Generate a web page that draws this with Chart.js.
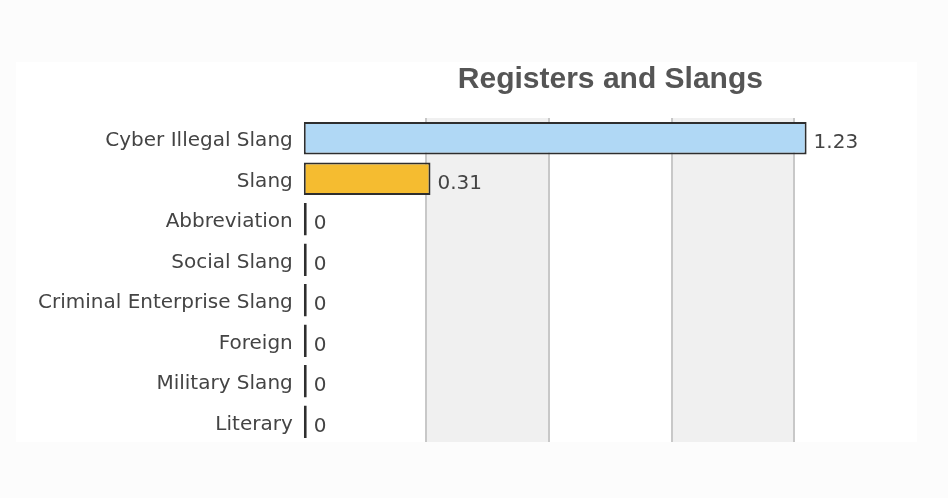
<!DOCTYPE html>
<html>
<head>
<meta charset="utf-8">
<script src="https://cdn.jsdelivr.net/npm/chart.js@4/dist/chart.umd.min.js"></script>
<style>
  html, body { margin: 0; padding: 0; background: #fcfcfc; }
  #wrap { width: 948px; height: 498px; position: relative; }
</style>
</head>
<body>
<div id="wrap"><canvas id="c" width="948" height="498"></canvas></div>
<script>
const categories = ["Cyber Illegal Slang", "Slang", "Abbreviation", "Social Slang", "Criminal Enterprise Slang", "Foreign", "Military Slang", "Literary"];
const values = [1.23, 0.31, 0, 0, 0, 0, 0, 0];
const barColors = ["#b0d8f5", "#f5bc30", "#333333", "#333333", "#333333", "#333333", "#333333", "#333333"];
const valueLabels = ["1.23", "0.31", "0", "0", "0", "0", "0", "0"];
const titleText = "Registers and Slangs";

const TEXT = "#444444";
const LABEL_FONT = "DejaVu Sans, Verdana, sans-serif";

const panelPlugin = {
  id: 'panel',
  beforeDraw(chart) {
    const { ctx, chartArea } = chart;
    ctx.save();
    ctx.fillStyle = '#ffffff';
    ctx.fillRect(16, 62, chartArea.right - 16, chartArea.bottom - 62);
    ctx.restore();
  }
};

const bandsPlugin = {
  id: 'bands',
  beforeDatasetsDraw(chart) {
    const { ctx, chartArea, scales } = chart;
    const x = scales.x;
    const ticks = x.ticks;
    ctx.save();
    ctx.fillStyle = '#f0f0f0';
    for (let i = 1; i < ticks.length - 1; i += 2) {
      const a = x.getPixelForValue(ticks[i].value);
      const b = x.getPixelForValue(ticks[i + 1].value);
      ctx.fillRect(a, chartArea.top, b - a, chartArea.bottom - chartArea.top);
    }
    ctx.strokeStyle = '#c8c8c8';
    ctx.lineWidth = 2;
    for (let i = 1; i < ticks.length - 1; i++) {
      const p = Math.round(x.getPixelForValue(ticks[i].value));
      ctx.beginPath();
      ctx.moveTo(p, chartArea.top);
      ctx.lineTo(p, chartArea.bottom);
      ctx.stroke();
    }
    ctx.restore();
  }
};

const valueLabelPlugin = {
  id: 'valueLabels',
  afterDatasetsDraw(chart) {
    const { ctx } = chart;
    const meta = chart.getDatasetMeta(0);
    ctx.save();
    ctx.fillStyle = TEXT;
    ctx.font = '20px ' + LABEL_FONT;
    ctx.textAlign = 'left';
    ctx.textBaseline = 'middle';
    meta.data.forEach((bar, i) => {
      const end = Math.max(bar.x, bar.base + 3);
      ctx.fillText(valueLabels[i], end + 7, bar.y + 5);
    });
    ctx.restore();
  }
};

new Chart(document.getElementById('c'), {
  type: 'bar',
  data: {
    labels: categories,
    datasets: [{
      data: values,
      backgroundColor: barColors,
      borderColor: '#2e2e2e',
      borderWidth: 2,
      borderSkipped: false,
      minBarLength: 3,
      barPercentage: 0.8,
      categoryPercentage: 1.0
    }]
  },
  options: {
    indexAxis: 'y',
    responsive: false,
    animation: false,
    layout: { padding: { left: 27, right: 31, top: 62, bottom: 56 } },
    plugins: {
      legend: { display: false },
      tooltip: { enabled: false },
      title: {
        display: true,
        text: titleText,
        fullSize: false,
        color: '#555555',
        font: { family: 'Liberation Sans, Arial, sans-serif', size: 30, weight: 'bold' },
        padding: { top: 0, bottom: 20 }
      }
    },
    scales: {
      x: {
        min: 0,
        max: 1.5,
        ticks: { display: false, stepSize: 0.3 },
        grid: { display: false, drawTicks: false },
        border: { display: false }
      },
      y: {
        ticks: { color: TEXT, font: { family: LABEL_FONT, size: 20 }, padding: 11, labelOffset: 3 },
        grid: { display: false, drawTicks: false },
        border: { display: false }
      }
    }
  },
  plugins: [panelPlugin, bandsPlugin, valueLabelPlugin]
});
</script>
</body>
</html>
